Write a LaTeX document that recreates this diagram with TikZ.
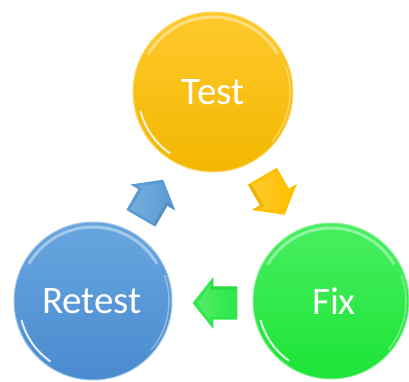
\documentclass[tikz,border=0pt]{standalone}
\usepackage{fontspec}
\setmainfont{Carlito}
\usetikzlibrary{calc}
\definecolor{testc}{HTML}{FFC000}
\definecolor{testtop}{HTML}{FFC92E}
\definecolor{testbot}{HTML}{F2B700}
\definecolor{retc}{HTML}{5B9BD5}
\definecolor{rettop}{HTML}{68A6DF}
\definecolor{retbot}{HTML}{4A8BD0}
\definecolor{fixc}{HTML}{2EE84A}
\definecolor{fixtop}{HTML}{48EE60}
\definecolor{fixbot}{HTML}{1CE436}
\newcommand\glossring[2]{%
  \draw[white,opacity=.4,line width=3pt] ($(#1.center)+(-150:#2-5)$) arc[start angle=-150,end angle=-30,radius=#2-5];
  \draw[white,opacity=.85,line width=2pt] ($(#1.center)+(165:#2-5)$) arc[start angle=165,end angle=125,radius=#2-5];
  \draw[white,opacity=.35,line width=1.5pt] ($(#1.center)+(-20:#2-3)$) arc[start angle=-20,end angle=40,radius=#2-3];
}
\newcommand\blockarr[3]{%
  \begin{scope}[shift={(#1)},rotate=#2]
    \fill[#3] (-22.3,-16.7) -- (1.7,-16.7) -- (1.7,-26) -- (22.3,0) -- (1.7,26) -- (1.7,16.7) -- (-22.3,16.7) -- cycle;
    \shade[left color=#3!80!white,right color=#3,opacity=.9] (-19.5,-13.5) -- (4.5,-13.5) -- (4.5,-19) -- (17.5,0) -- (4.5,19) -- (4.5,13.5) -- (-19.5,13.5) -- cycle;
    \fill[#3!80!black,opacity=.3] (-22.3,16.7) -- (1.7,16.7) -- (1.7,26) -- (4.5,19) -- (4.5,13.5) -- (-19.5,13.5) -- cycle;
  \end{scope}}
\begin{document}
\begin{tikzpicture}[x=1pt,y=-1pt,
  ball/.style={circle,inner sep=0pt,text=white,font=\fontsize{39}{44}\selectfont}]
\useasboundingbox (0,0) rectangle (409,381);
\node[ball,minimum size=160pt,top color=testtop,bottom color=testbot,draw=testc!55!white,line width=1pt] (test) at (213,92) {Test};
\node[ball,minimum size=158pt,top color=rettop,bottom color=retbot,draw=retc!55!white,line width=1pt] (retest) at (93,301) {\hspace*{-2pt}Retest};
\node[ball,minimum size=156pt,top color=fixtop,bottom color=fixbot,draw=fixc!55!white,line width=1pt] (fix) at (331,301) {\hspace*{6pt}Fix};
\glossring{test}{80}
\glossring{retest}{79}
\glossring{fix}{78}
\blockarr{$($(retest)!.5!(test)$)+(-1,2.5)$}{60}{retc}
\blockarr{$($(test)!.5!(fix)$)+(1.5,-1)$}{-60}{testc}
\blockarr{$($(fix)!.5!(retest)$)+(3,2)$}{180}{fixc}
\end{tikzpicture}
\end{document}
